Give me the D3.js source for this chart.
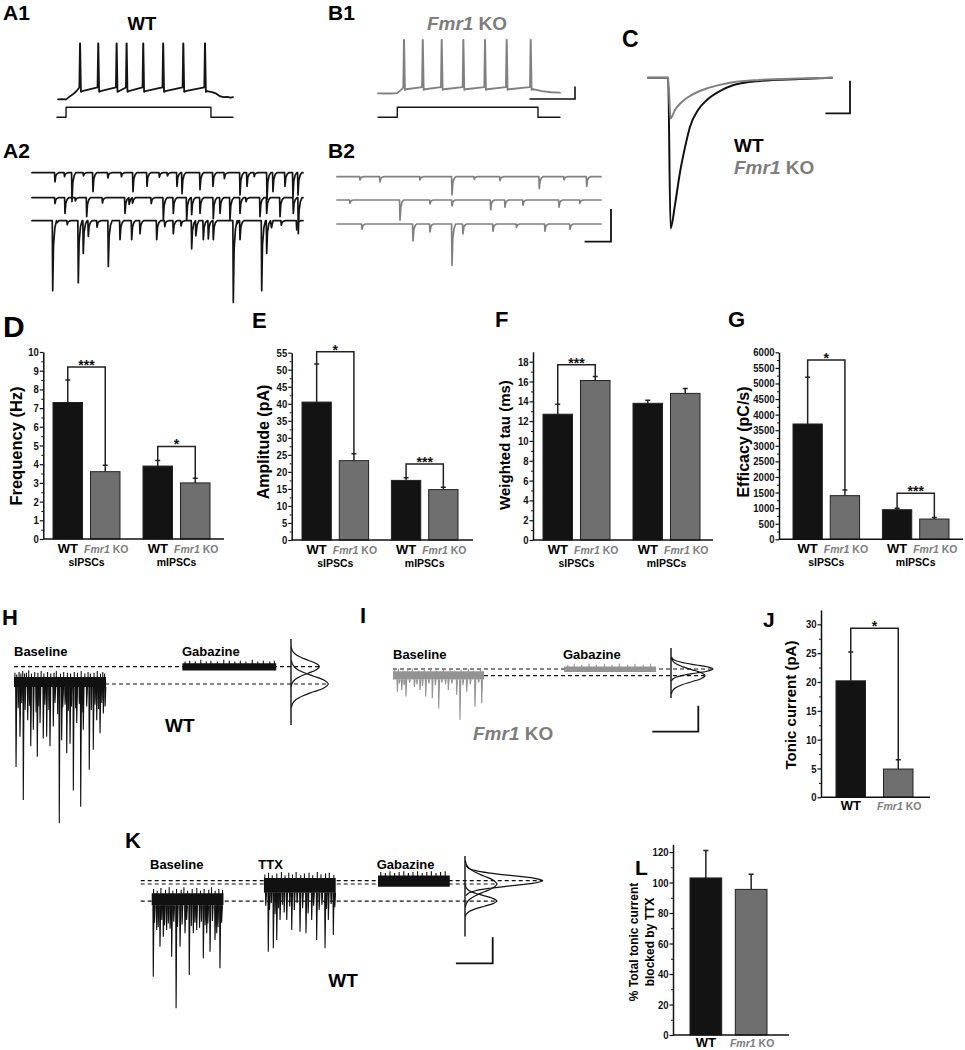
<!DOCTYPE html>
<html><head><meta charset="utf-8">
<script src="https://cdn.jsdelivr.net/npm/d3@7"></script>
<style>
body{margin:0;background:#fff;}
svg{display:block;font-family:"Liberation Sans",Arial,Helvetica,sans-serif;}
</style></head><body>
<svg id="fig" width="965" height="1050"></svg>
<script>
// ================= DATA =================
const groups = ["sIPSCs", "mIPSCs"];
const genotypes = ["WT", "Fmr1 KO"];

// D – frequency (Hz)
const freqMean = [7.3, 3.6, 3.9, 3.0];
const freqSem  = [1.2, 0.35, 0.3, 0.25];
const freqTicks = [0,1,2,3,4,5,6,7,8,9,10];
const freqSig = [{from:0,to:1,level:9.2,label:"***"},{from:2,to:3,level:4.95,label:"*"}];
// E – amplitude (pA)
const ampMean = [40.5, 23.3, 17.5, 14.8];
const ampSem  = [11.2, 2.0, 0.8, 0.7];
const ampTicks = [0,5,10,15,20,25,30,35,40,45,50,55];
const ampSig = [{from:0,to:1,level:55.3,label:"*"},{from:2,to:3,level:22.3,label:"***"}];
// F – weighted tau (ms)
const tauMean = [12.7, 16.1, 13.8, 14.8];
const tauSem  = [1.0, 0.4, 0.3, 0.5];
const tauTicks = [0,2,4,6,8,10,12,14,16,18];
const tauSig = [{from:0,to:1,level:17.7,label:"***"}];
// G – efficacy (pC/s)
const effMean = [3700, 1400, 950, 650];
const effSem  = [1500, 180, 50, 50];
const effTicks = [0,500,1000,1500,2000,2500,3000,3500,4000,4500,5000,5500,6000];
const effSig = [{from:0,to:1,level:5750,label:"*"},{from:2,to:3,level:1475,label:"***"}];
// J – tonic current (pA)
const tonicMean = [20.2, 4.9];
const tonicSem  = [5.0, 1.6];
const tonicTicks = [0,5,10,15,20,25,30];
const tonicSig = [{from:0,to:1,level:29.3,label:"*"}];
// L – % tonic current blocked by TTX
const ttxMean = [103, 95.5];
const ttxSem  = [18, 10];
const ttxTicks = [0,20,40,60,80,100,120];

// A1 / B1 – firing (ms, mV)
const a1Spikes = [126, 230, 335, 392, 487, 601, 716, 840];
const a1Lead = [[0,-70],[25,-69.6],[46,-70.2],[62,-66.5],[85,-62],[105,-57]];
const a1Tail = [[880,-58.5],[905,-61],[925,-65],[945,-66.5],[970,-66],[985,-67.5],[1000,-66.5]];
const a1Cmd = [[-6,0],[46,0],[46,100],[874,100],[874,0],[1000,0]];
const b1Spikes = [143, 246, 350, 469, 588, 707, 839];
const b1Lead = [[0,-70],[60,-70.3],[106,-69.8],[120,-66],[136,-62]];
const b1Tail = [[870,-64.5],[900,-66.5],[950,-68.3],[1000,-69]];
const b1Cmd = [[0,0],[106,0],[106,100],[879,100],[879,0],[1000,0]];

// A2 / B2 – sIPSC sweeps: [time ms, amplitude pA]
const a2Sweeps = [
  [[424,14],[738,44],[1125,29],[1863,29],[2122,21],[2675,21],[2768,32],[3100,26],[3339,21],[3838,34],[3967,21],[4336,41],[4446,29],[4668,21],[4815,37],[4908,34],[1400,8],[2350,7],[3550,9],[600,6],[950,5],[1650,6],[2500,5],[4100,6]],
  [[424,9],[609,24],[1009,29],[1716,24],[1777,29],[1839,24],[2423,34],[2607,24],[2854,34],[2946,26],[3100,24],[3345,32],[3469,24],[3653,34],[3838,24],[4207,29],[4330,24],[4576,29],[4821,24],[4913,55],[1300,8],[2200,9],[800,5],[3950,6]],
  [[382,107],[424,29],[854,95],[946,50],[1039,24],[1408,70],[1624,29],[1839,29],[1993,20],[2301,29],[2607,20],[2946,43],[3007,66],[3161,29],[3253,28],[3345,29],[3714,125],[3745,50],[3838,29],[4238,107],[4330,50],[4378,107],[4884,14],[1200,10],[2450,9],[650,6],[2750,8],[4600,7]]
];
const b2Sweeps = [
  [[436,5],[814,8],[1572,5],[2178,28],[3087,6],[3831,18],[4729,15],[2600,4],[4300,5]],
  [[246,5],[1193,31],[1761,6],[2178,9],[2911,15],[3182,11],[3523,8],[4205,11],[4600,5]],
  [[473,8],[1439,26],[1761,12],[2178,63],[2386,15],[2955,11],[3939,11],[4413,8],[3400,5]]
];

// C – averaged IPSC (ms, pA)
const cTime = [0, 8.2, 9.2, 11, 13, 15.1, 17.1, 20.4, 23.9, 29.3, 34.6, 45.6, 61.9, 75];
const cWT   = [0, 0, -46.2, -39, -29.2, -21.3, -15.1, -9.9, -6.9, -4.1, -2.3, -1.0, -0.4, 0];
const cKO   = [0, 0, -12.5, -9.9, -8.0, -6.6, -5.6, -4.3, -3.3, -2.2, -1.4, -0.7, -0.25, 0];

// H / I / K – tonic current recordings (time s, current pA)
const hSegments = [
  {name:"Baseline", t0:0, t1:100, level:-20, up:8, down:3.5,
   ev:[[2.2,96],[6.5,61],[10.1,134],[14.9,42],[18.2,72],[21,53],[25.3,84],[28.3,45],[31.8,63],[35.5,61],[39.1,72],[42.7,49],[49.2,161],[51.8,65],[57.3,80],[60.9,69],[64.5,123],[68.2,45],[72.5,142],[75.3,53],[81.8,99],[86.2,76],[89.9,42],[93.5,57],[97.1,34],
       [4.5,28],[8.5,22],[12,30],[17,25],[24,33],[27,26],[33.5,24],[38,30],[44.5,22],[47.5,35],[53,27],[55.5,24],[59,31],[62.5,26],[67,28],[71,23],[74,33],[79,26],[84,30],[88,24],[92,29],[95.5,22],[99,26]],
   noise:[[1,13],[3,11],[5.5,14],[7.5,12],[9.5,15],[11.5,12],[13.5,13],[16,16],[19,12],[22.5,14],[26,13],[29.5,15],[32.5,12],[36.5,14],[40,12],[43.5,13],[46,15],[50.5,12],[54,14],[58,13],[61.5,12],[65.5,14],[69,13],[73,15],[77,12],[80.5,14],[83,12],[87,13],[90.5,15],[94,12],[96.5,14],[98.5,12]]},
  {name:"Gabazine", t0:183, t1:285, level:0, up:4, down:4.5, ev:[],
   noise:[[186,6],[191,7],[197,6],[203,8],[209,6],[214,7],[221,6],[228,8],[234,7],[240,6],[246,7],[252,6],[259,8],[265,6],[271,7],[278,6],[283,7]]}
];
const iSegments = [
  {name:"Baseline", t0:0, t1:99, level:-7.7, up:5, down:4.5,
   ev:[[4.7,18.5],[9.5,16.5],[14.1,24],[23.2,13],[29.3,16.5],[35.5,24],[42.7,26],[49.7,38],[60.1,16.5],[69.2,22],[72.8,51],[80.1,18.5],[89.1,36],[96.4,32],
       [7,9],[12,11],[18,8],[26,10],[32,12],[39,9],[46,11],[53,8],[57,10],[64,9],[76,11],[84,10],[93,8]],
   noise:[[2,7],[6,8],[11,6],[16,7],[21,8],[28,6],[34,7],[41,8],[47,6],[55,7],[62,8],[67,6],[74,7],[82,8],[87,6],[95,7]]},
  {name:"Gabazine", t0:186, t1:286, level:0, up:3, down:3.5, ev:[],
   noise:[[190,5],[197,6],[205,5],[213,6],[221,5],[230,6],[238,5],[246,6],[255,5],[263,6],[272,5],[280,6]]}
];
const kSegments = [
  {name:"Baseline", t0:0, t1:78, level:-23.5, up:9, down:5,
   ev:[[1.7,87.5],[5.4,33.5],[9,52.8],[12.6,41.3],[16.2,33.5],[21.7,64.4],[26.5,124],[30.8,52.8],[36.2,37.3],[40.8,85.5],[45.2,37.3],[48.9,33.5],[56.1,66.2],[59.8,37.3],[63.4,58.6],[68.8,45],[70.7,37.3],[74.2,77.8],
       [3,25],[7,30],[11,22],[14,28],[18,26],[20,32],[24,24],[28,30],[33,27],[38,22],[43,29],[47,25],[52,31],[54,24],[58,28],[61,26],[66,23],[72,30],[76,25]],
   noise:[[2,14],[6,12],[10,15],[15,13],[19,16],[23,12],[27,14],[32,13],[35,16],[39,12],[44,14],[49,15],[53,12],[57,14],[62,13],[65,16],[69,12],[73,14],[77,13]]},
  {name:"TTX", t0:122, t1:200, level:-3.8, up:7, down:10,
   ev:[[126.7,78.3],[132.2,74.3],[135.9,64.7],[139.5,41.6],[146.8,41.6],[152.2,53.2],[161.2,55.1],[167.7,57],[173.9,41.6],[179.3,64.7],[188.4,74.3],[192,41.6],[197.4,59],
       [124,25],[128,30],[130,22],[134,35],[138,28],[142,24],[144,33],[150,26],[155,30],[158,22],[164,28],[170,34],[176,25],[182,30],[185,24],[190,29],[195,23],[199,27]],
   noise:[[123,11],[127,13],[131,10],[136,12],[141,14],[145,10],[149,13],[153,11],[157,14],[162,10],[166,12],[171,13],[175,10],[180,14],[184,11],[189,12],[193,13],[198,10]]},
  {name:"Gabazine", t0:246, t1:324, level:0, up:6, down:7, ev:[],
   noise:[[249,10],[254,9],[259,11],[264,9],[269,10],[274,11],[279,9],[284,10],[289,11],[294,9],[299,10],[304,11],[309,9],[314,10],[319,11]]}
];
const hHist = [{mu:0, sd:7.5, peak:0.76},{mu:-20, sd:9, peak:1}];
const iHist = [{mu:0, sd:4.6, peak:1},{mu:-7.7, sd:7, peak:0.81}];
const kHist = [{mu:0, sd:5.8, peak:1},{mu:-3.8, sd:9, peak:0.41},{mu:-23.5, sd:6, peak:0.41}];
const gaussShape = [[-3,0.011],[-2.5,0.044],[-2,0.135],[-1.5,0.325],[-1,0.607],[-0.5,0.882],[0,1],[0.5,0.882],[1,0.607],[1.5,0.325],[2,0.135],[2.5,0.044],[3,0.011]];

// ================= DRAWING =================
const BLK="#131313", GBAR="#6f6f6f", GTXT="#7d7d7d", GTR="#808080";
const svg = d3.select("#fig");
svg.append("rect").attr("width",965).attr("height",1050).attr("fill","#fff");

function T(x,y,s,size,o={}){
  const t=svg.append("text").attr("x",x).attr("y",y).attr("font-size",size).attr("font-weight","bold")
    .attr("fill",o.fill||"#000").attr("text-anchor",o.anchor||"start");
  if(o.rot!==undefined) t.attr("transform",`rotate(${o.rot},${x},${y})`);
  t.text(s); return t;
}
function KO(x,y,size,o={}){
  const parts = genotypes[1].split(" ");
  const t=svg.append("text").attr("x",x).attr("y",y).attr("font-size",size).attr("font-weight","bold")
    .attr("fill",o.fill||GTXT).attr("text-anchor",o.anchor||"start");
  t.append("tspan").attr("font-style","italic").text(parts[0]);
  t.append("tspan").text(" "+parts[1]);
  return t;
}
function plot(points, xs, ys, color, width, curve){
  svg.append("path").datum(points)
    .attr("d", d3.line().x(d=>xs(d[0])).y(d=>ys(d[1])).curve(curve||d3.curveLinear))
    .attr("fill","none").attr("stroke",color).attr("stroke-width",width)
    .attr("stroke-linejoin","round").attr("stroke-linecap","round");
}
function scaleBar(xc, yc, hLen, vLen, w){
  svg.append("path").attr("d",`M${xc-hLen},${yc}H${xc}V${yc-vLen}`)
    .attr("fill","none").attr("stroke","#111").attr("stroke-width",w||1.8);
}

// ---------- bar charts ----------
function barChart(p){
  const y = d3.scaleLinear().domain([0,p.yMax]).range([p.y0,p.yTop]);
  const cats=[];
  if(p.means.length===4){
    const outer=d3.scaleBand().domain(groups).range([p.barL,p.barR]).paddingInner(0.2556);
    const inner=d3.scaleBand().domain(genotypes).range([0,outer.bandwidth()]).paddingInner(0.213);
    groups.forEach(gr=>genotypes.forEach(ge=>cats.push({gr,ge,x:outer(gr)+inner(ge),w:inner.bandwidth(),gx:outer(gr)+outer.bandwidth()/2})));
  } else {
    const xb=d3.scaleBand().domain(genotypes).range([p.barL,p.barR]).paddingInner(p.pad);
    genotypes.forEach(ge=>cats.push({ge,x:xb(ge),w:xb.bandwidth()}));
  }
  cats.forEach((c,i)=>{c.m=p.means[i]; c.e=p.means[i]+p.sems[i]; c.cx=c.x+c.w/2;});
  const g=svg.append("g");
  g.selectAll("path.err").data(cats).join("path").attr("class","err")
    .attr("d",c=>`M${c.cx},${y(c.m)}V${y(c.e)}M${c.cx-2.5},${y(c.e)}H${c.cx+2.5}`)
    .attr("stroke","#222").attr("stroke-width",1.5).attr("fill","none");
  g.selectAll("rect").data(cats).join("rect")
    .attr("x",c=>c.x).attr("y",c=>y(c.m)).attr("width",c=>c.w).attr("height",c=>y(0)-y(c.m))
    .attr("fill",c=>c.ge==="WT"?BLK:GBAR).attr("stroke","#222").attr("stroke-width",1);
  (p.sig||[]).forEach(s=>{
    const a=cats[s.from], b=cats[s.to];
    g.append("path").attr("d",`M${a.cx},${y(a.e)}V${y(s.level)}H${b.cx}V${y(b.e)}`)
      .attr("fill","none").attr("stroke","#222").attr("stroke-width",1.5);
    g.append("text").attr("x",(a.cx+b.cx)/2).attr("y",y(s.level)+3).attr("text-anchor","middle")
      .attr("font-size",14).attr("font-weight","bold").attr("fill","#111").text(s.label);
  });
  const ax=g.append("g").attr("transform",`translate(${p.axisX},0)`)
    .call(d3.axisLeft(y).tickValues(p.ticks).tickSize(3.5).tickSizeOuter(0).tickPadding(1).tickFormat(d3.format("d")));
  ax.select(".domain").attr("stroke","#111").attr("stroke-width",1.5);
  ax.selectAll(".tick line").attr("stroke","#111").attr("stroke-width",1.2);
  ax.selectAll("text").attr("font-size",11).attr("font-weight","bold").attr("fill","#111")
    .attr("font-family","'Liberation Sans',Arial,sans-serif")
    .attr("textLength",d=>String(d).length*5.3).attr("lengthAdjust","spacingAndGlyphs");
  const minors=d3.pairs(p.ticks).map(([a,b])=>(a+b)/2);
  const mx=g.append("g").attr("transform",`translate(${p.axisX},0)`)
    .call(d3.axisLeft(y).tickValues(minors).tickSize(2).tickFormat(""));
  mx.select(".domain").remove();
  mx.selectAll(".tick line").attr("stroke","#111").attr("stroke-width",1);
  g.append("path").attr("d",`M${p.axisX},${y(0)}H${p.xEnd}`).attr("stroke","#111").attr("stroke-width",1.5);
  cats.forEach(c=>{
    if(c.ge==="WT") T(c.cx,p.y0+p.lab,"WT",13,{anchor:"middle"});
    else KO(c.cx+1,p.y0+p.lab,10.5,{anchor:"middle"});
  });
  if(p.means.length===4) groups.forEach((gr,i)=>T(cats[i*2].gx,p.y0+27,gr,10.5,{anchor:"middle"}));
  if(p.title) T(p.titleX,p.titleY,p.title,p.titleSize||16,{anchor:"middle",rot:-90});
  return y;
}

barChart({means:freqMean,sems:freqSem,ticks:freqTicks,sig:freqSig,yMax:10,y0:539,yTop:352,axisX:43.3,xEnd:224,barL:53,barR:210,lab:13.5,
  title:"Frequency (Hz)",titleX:22,titleY:446,titleSize:16.5});
barChart({means:ampMean,sems:ampSem,ticks:ampTicks,sig:ampSig,yMax:55,y0:540,yTop:352.7,axisX:291.7,xEnd:473,barL:302,barR:458,lab:13.5,
  title:"Amplitude (pA)",titleX:269,titleY:442,titleSize:16});
barChart({means:tauMean,sems:tauSem,ticks:tauTicks,sig:tauSig,yMax:19,y0:540,yTop:351.8,axisX:533,xEnd:713,barL:543,barR:700,lab:13.5,
  title:"Weighted tau (ms)",titleX:510,titleY:445,titleSize:15});
barChart({means:effMean,sems:effSem,ticks:effTicks,sig:effSig,yMax:6000,y0:539.3,yTop:352.3,axisX:779,xEnd:963,barL:793,barR:949,lab:13.5,
  title:"Efficacy (pC/s)",titleX:748.5,titleY:442,titleSize:16});
barChart({means:tonicMean,sems:tonicSem,ticks:tonicTicks,sig:tonicSig,yMax:32.5,y0:797.3,yTop:609.9,axisX:821,xEnd:930,barL:836,barR:913,pad:0.379,lab:12.7,
  title:"Tonic current (pA)",titleX:796,titleY:705,titleSize:15});
barChart({means:ttxMean,sems:ttxSem,ticks:ttxTicks,sig:[],yMax:125,y0:1035,yTop:844.4,axisX:673,xEnd:789,barL:690,barR:767,pad:0.3,lab:12});
T(638,942,"% Total tonic current",12,{anchor:"middle",rot:-90});
T(654,942,"blocked by TTX",12,{anchor:"middle",rot:-90});

// ---------- A1 / B1 ----------
const spikeShape = [[-4,"pre"],[-0.5,"peak"],[0.5,"peak"],[5,"ahp1"],[12,"ahp"]];
function apTrace(lead, spikes, tail, lv){
  const pts = lead.slice();
  spikes.forEach(t=>spikeShape.forEach(([dt,k])=>{
    const v = k==="pre"?lv.pre:k==="peak"?lv.peak:k==="ahp1"?lv.ahp-1:lv.ahp;
    pts.push([t+dt,v]);
  }));
  return pts.concat(tail);
}
const tA1=d3.scaleLinear([0,1000],[58,233]), vA1=d3.scaleLinear([-70,20],[99.3,43.3]), cA1=d3.scaleLinear([0,100],[117.3,107.3]);
plot(apTrace(a1Lead,a1Spikes,a1Tail,{pre:-51,peak:20,ahp:-57}),tA1,vA1,"#141414",1.8);
plot(a1Cmd,tA1,cA1,"#141414",1.4);
const tB1=d3.scaleLinear([0,1000],[378,560]), vB1=d3.scaleLinear([-70,20],[93.3,37.3]), cB1=d3.scaleLinear([0,100],[117.3,107.3]);
plot(apTrace(b1Lead,b1Spikes,b1Tail,{pre:-60,peak:16,ahp:-63.5}),tB1,vB1,GTR,1.8);
plot(b1Cmd,tB1,cB1,"#141414",1.4);
scaleBar(575,99,tB1(250)-tB1(0),vB1(0)-vB1(20),1.6);
T(3,20,"A1",21); T(142,30,"WT",18.5,{anchor:"middle"});
T(328,20,"B1",21); KO(467,30,19,{anchor:"middle"});

// ---------- A2 / B2 ----------
const ipscShape = [[-8,0],[0,-1],[15,-0.35],[40,-0.1],[70,0]];
function sweepPoints(events, tEnd){
  const ev = events.slice().sort((a,b)=>a[0]-b[0]);
  const pts=[[0,0]];
  ev.forEach(([t,a])=>ipscShape.forEach(([dt,f])=>{const tt=t+dt; if(tt>pts[pts.length-1][0]) pts.push([tt,f*a]);}));
  pts.push([tEnd,0]); return pts;
}
const tA2=d3.scaleLinear([0,5000],[32,303]);
[172.7,197.7,220.7].forEach((base,i)=>{
  const ys=d3.scaleLinear([0,-50],[base,base+32.7]);
  plot(sweepPoints(a2Sweeps[i],5000),tA2,ys,"#141414",1.7);
});
const tB2=d3.scaleLinear([0,5000],[337,601]);
[176.7,200,224].forEach((base,i)=>{
  const ys=d3.scaleLinear([0,-50],[base,base+32.7]);
  plot(sweepPoints(b2Sweeps[i],5000),tB2,ys,GTR,1.7);
});
scaleBar(611,241.7,tB2(500)-tB2(0),32.7,1.8);
T(3,158.3,"A2",21); T(328,158.3,"B2",21);

// ---------- C ----------
const tC=d3.scaleLinear([0,75],[648,832]), iC=d3.scaleLinear([0,-10],[77.7,110.3]);
plot(cTime.map((t,i)=>[t,cWT[i]]),tC,iC,"#111",2,d3.curveMonotoneX);
plot(cTime.map((t,i)=>[t,cKO[i]]),tC,iC,GTR,2,d3.curveMonotoneX);
scaleBar(850,113.3,tC(10)-tC(0),iC(-10)-iC(0),1.8);
T(622,46.7,"C",23);
T(734,151.7,"WT",19); KO(734,174.3,19);

// ---------- tonic current panels ----------
function tonic(c){
  c.dashes.forEach(d=>svg.append("path").attr("d",`M${c.dashX0},${c.i(d.level)}H${d.x1}`)
    .attr("stroke","#111").attr("stroke-width",1.2).attr("stroke-dasharray","4,3").attr("fill","none"));
  c.segs.forEach(s=>{
    svg.append("path").datum([s.t0,s.t1])
      .attr("d",d3.area().x(d=>c.t(d)).y0(c.i(s.level-s.down)).y1(c.i(s.level+s.up)))
      .attr("fill",c.color);
    svg.append("g").selectAll("path").data(s.noise||[]).join("path")
      .attr("d",([t,a])=>`M${c.t(t)},${c.i(s.level+s.up-1)}V${c.i(s.level+a)}`)
      .attr("stroke",c.color).attr("stroke-width",1.1);
    const evp = s.ev.map(([t,a])=>[[t-0.35,s.level-s.down],[t,s.level-a],[t+0.8,s.level-s.down]]);
    svg.append("g").selectAll("path").data(evp).join("path")
      .attr("d",d3.line().x(d=>c.t(d[0])).y(d=>c.i(d[1])))
      .attr("fill",c.color).attr("stroke",c.color).attr("stroke-width",1.1);
  });
  const cs=d3.scaleLinear([0,1],[c.hist.x0,c.hist.x1]);
  svg.append("path").attr("d",`M${c.hist.x0},${c.i(c.hist.top)}V${c.i(c.hist.bot)}`)
    .attr("stroke","#111").attr("stroke-width",1.4);
  c.hist.curves.forEach(k=>svg.append("path").datum(gaussShape)
    .attr("d",d3.line().x(d=>cs(d[1]*k.peak)).y(d=>c.i(k.mu+d[0]*k.sd)).curve(d3.curveCatmullRom))
    .attr("fill","none").attr("stroke","#111").attr("stroke-width",1.2));
}
const tH=d3.scaleLinear([0,300],[14,290]), iH=d3.scaleLinear([0,-20],[666.7,684]);
tonic({t:tH,i:iH,segs:hSegments,color:"#111",dashX0:14,dashes:[{level:0,x1:319},{level:-20,x1:328}],
  hist:{x0:291,x1:328.3,top:32,bot:-67.4,curves:hHist}});
T(2,625,"H",22); T(14,656,"Baseline",13); T(182,656,"Gabazine",13); T(165,731.7,"WT",19);

const tI=d3.scaleLinear([0,300],[393,669]), iI=d3.scaleLinear([0,-20],[669,686.3]);
tonic({t:tI,i:iI,segs:iSegments,color:"#939393",dashX0:393,dashes:[{level:0,x1:712},{level:-7.7,x1:705}],
  hist:{x0:671,x1:713,top:24.3,bot:-33.5,curves:iHist}});
scaleBar(698.3,731.7,tI(50)-tI(0),iI(-30)-iI(0),1.8);
T(360,623.3,"I",22); T(393,659.3,"Baseline",13); T(563,659.3,"Gabazine",13); KO(473,740,19);

const tK=d3.scaleLinear([0,350],[151.7,473.7]), iK=d3.scaleLinear([0,-20],[880.7,898]);
tonic({t:tK,i:iK,segs:kSegments,color:"#111",dashX0:140.7,dashes:[{level:0,x1:542},{level:-3.8,x1:498},{level:-23.5,x1:497}],
  hist:{x0:465,x1:542.7,top:28.6,bot:-64.6,curves:kHist}});
scaleBar(492.7,963.3,tK(40)-tK(0),iK(-30)-iK(0),1.8);
T(125,848.3,"K",22); T(150,869.3,"Baseline",13); T(258.3,869.3,"TTX",13); T(376.7,869.3,"Gabazine",13); T(328.3,986.7,"WT",19);

// panel letters for bar charts
T(3,336.7,"D",30); T(252,327.7,"E",22); T(495,326.7,"F",22); T(728,326.7,"G",22);
T(763,626.7,"J",21); T(635,875,"L",21);
</script>
</body></html>
